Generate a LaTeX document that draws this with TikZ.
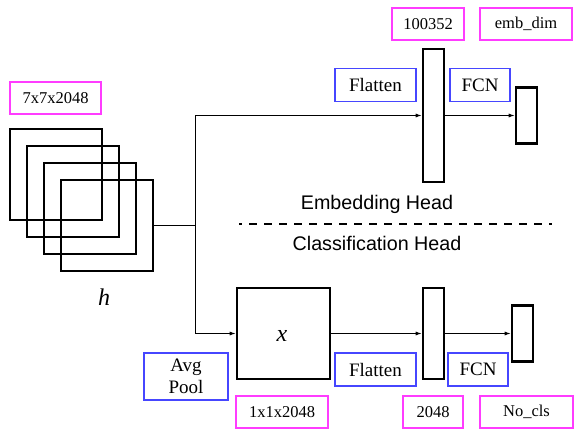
\documentclass[tikz,border=0pt]{standalone}
\usepackage{fontspec}
\setmainfont{Liberation Serif}
\setsansfont{Liberation Sans}
\usetikzlibrary{arrows.meta}
\definecolor{mag}{RGB}{255,60,255}
\definecolor{blu}{RGB}{70,70,255}
\tikzset{
  magbox/.style={draw=mag, line width=1.3pt, minimum width=#1, minimum height=32pt, inner sep=0pt, font=\fontsize{16.5}{19}\selectfont},
  blubox/.style={draw=blu, line width=1.3pt, minimum width=#1, minimum height=33pt, inner sep=0pt, font=\fontsize{19}{21}\selectfont},
  thick box/.style={draw=black, line width=2.6pt, inner sep=0pt},
  conn/.style={draw=black, line width=0.9pt},
  arr/.style={conn, -{Latex[length=6pt,width=4pt]}},
  headlbl/.style={font=\sffamily\fontsize{19.7}{22}\selectfont},
  varlbl/.style={font=\itshape\fontsize{24}{26}\selectfont}
}
\begin{document}
\begin{tikzpicture}[x=1pt,y=-1pt]
\useasboundingbox (0,0) rectangle (581,436);
% feature map stack
\node[magbox=91pt] (m1) at (55.5,98) {7x7x2048};
\node[thick box, minimum width=92pt, minimum height=91pt] (sq1) at (56,174.5) {};
\node[thick box, minimum width=92pt, minimum height=91pt] (sq2) at (73,191.5) {};
\node[thick box, minimum width=92pt, minimum height=91pt] (sq3) at (90,208.5) {};
\node[thick box, minimum width=92pt, minimum height=91pt] (sq4) at (107,225.5) {};
\node[varlbl] (h) at (104,297) {h};
% junction
\coordinate (J) at (195,225.5);
\draw[conn] (sq4.east) -- (J);
% embedding head
\node[thick box, minimum width=21pt, minimum height=133pt] (bar1) at (433.5,115.5) {};
\node[thick box, minimum width=21pt, minimum height=56pt] (bar2) at (526.5,115.5) {};
\node[magbox=72pt] (m2) at (428,24) {100352};
\node[magbox=92pt] (m3) at (526,24) {emb\_dim};
\node[blubox=81pt] (b1) at (375.5,85) {Flatten};
\node[blubox=60pt] (b2) at (480,85) {FCN};
\draw[arr] (J) |- (bar1.west);
\draw[arr] (bar1.east) -- (bar2.west);
% heads separator
\node[headlbl] (eh) at (377,204) {Embedding Head};
\coordinate (d1) at (239,224);
\coordinate (d2) at (552,224);
\draw[line width=2pt, dash pattern=on 8pt off 7pt, dash phase=5pt] (d1) -- (d2);
\node[headlbl] (ch) at (377,243) {Classification Head};
% classification head
\node[thick box, minimum width=93pt, minimum height=91pt] (X) at (283.5,333.5) {};
\node[varlbl] (xl) at (282,336) {x};
\node[thick box, minimum width=21pt, minimum height=91pt] (bar3) at (433.5,333.5) {};
\node[thick box, minimum width=21pt, minimum height=56pt] (bar4) at (522.5,333.5) {};
\draw[arr] (J) |- (X.west);
\draw[arr] (X.east) -- (bar3.west);
\draw[arr] (bar3.east) -- (bar4.west);
\node[blubox=84pt, minimum height=47pt, align=center, font=\fontsize{19}{22}\selectfont] (b3) at (186,376.5) {Avg\\Pool};
\node[blubox=81pt] (b4) at (375.5,369.5) {Flatten};
\node[blubox=60pt] (b5) at (478,369.5) {FCN};
\node[magbox=92pt] (m4) at (282,412) {1x1x2048};
\node[magbox=60pt] (m5) at (433,412) {2048};
\node[magbox=93pt] (m6) at (526.5,412) {No\_cls};
\end{tikzpicture}
\end{document}
